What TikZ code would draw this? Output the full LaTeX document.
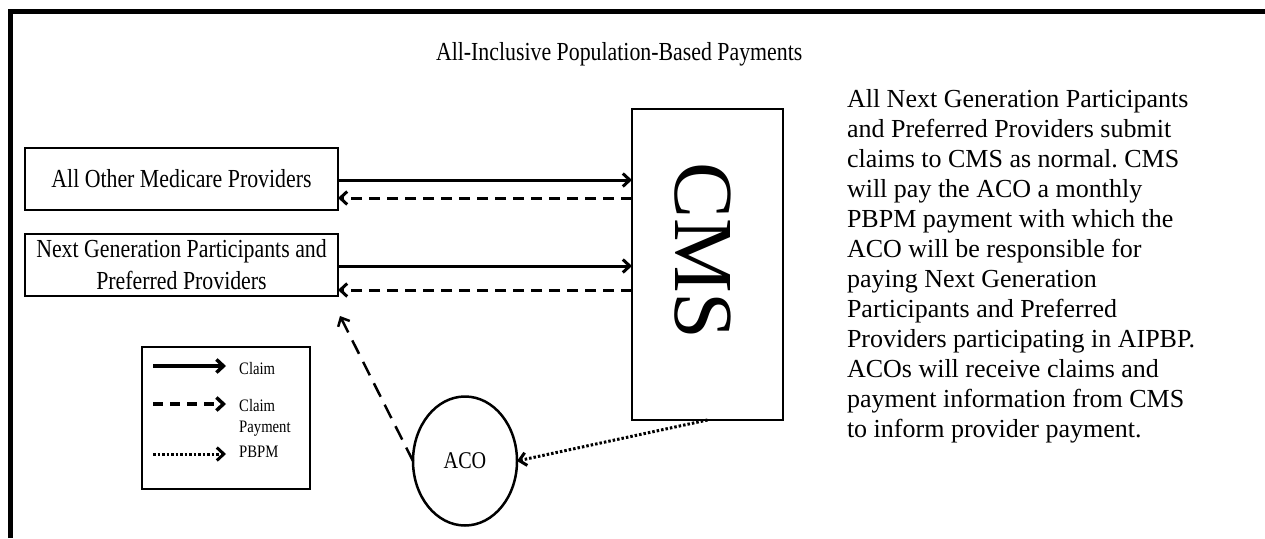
\documentclass[tikz,border=0pt]{standalone}
\usepackage{fontspec}
\setmainfont{Liberation Serif}
\newfontfamily\cond[FakeStretch=0.84]{Liberation Serif}
\usetikzlibrary{arrows.meta,shapes.geometric}
\frenchspacing
\begin{document}
\begin{tikzpicture}[x=1pt,y=-1pt,
  every node/.style={inner sep=0pt,outer sep=0pt},
  tip/.style={-{Straight Barb[length=7pt,width=13pt]}},
  provbox/.style={draw,line width=2.5pt,minimum width=313pt,minimum height=62pt,align=center,font=\cond\fontsize{26}{32}\selectfont},
  claimline/.style={tip,line width=3pt},
  payline/.style={tip,line width=3pt,dash pattern=on 11pt off 7pt},
  diagline/.style={tip,line width=2.5pt,dash pattern=on 15pt off 9pt},
  pbpmline/.style={tip,line width=3pt,dash pattern=on 2.5pt off 2pt},
  legline/.style={line width=3.5pt,-{Straight Barb[length=7pt,width=13pt]}}
]
\useasboundingbox (0,0) rectangle (1265,538);
% frame
\draw[line width=5pt] (10,538) -- (10,11) -- (1265,11);
% title
\node[anchor=base west,font=\cond\fontsize{26}{30}\selectfont] (title) at (436,60) {All-Inclusive Population-Based Payments};
% provider boxes
\node[provbox] (box1) at (181.5,179) {All Other Medicare Providers};
\node[provbox] (box2) at (181.5,265) {Next Generation Participants and\\Preferred Providers};
% CMS
\node[draw,line width=2.5pt,minimum width=151pt,minimum height=311pt] (cms) at (707.5,264.5) {};
\node[rotate=-90,font=\fontsize{84}{84}\selectfont] (cmstext) at (703,251) {CMS};
% ACO
\node[draw,ellipse,line width=2.5pt,minimum width=104pt,minimum height=129pt,font=\cond\fontsize{24}{24}\selectfont] (aco) at (465,461) {ACO};
% connectors
\draw[claimline] (box1.east |- 0,180) -- (cms.west |- 0,180);
\draw[payline] (cms.west |- 0,198) -- (box1.east |- 0,198);
\draw[claimline] (box2.east |- 0,266) -- (cms.west |- 0,266);
\draw[payline] (cms.west |- 0,290) -- (box2.east |- 0,290);
\coordinate (diagtip) at (340,316);
\draw[diagline] (aco.west) -- (diagtip);
\draw[pbpmline] (cms.south) -- (aco.east);
% legend
\node[draw,line width=2.5pt,minimum width=168pt,minimum height=142pt] (legend) at (226,418) {};
\coordinate (l1a) at (153,366); \coordinate (l1b) at (226,366);
\coordinate (l2a) at (153,404); \coordinate (l2b) at (226,404);
\coordinate (l3a) at (153,454); \coordinate (l3b) at (226,454);
\draw[legline] (l1a) -- (l1b);
\draw[legline,dash pattern=on 10pt off 7pt] (l2a) -- (l2b);
\draw[legline,line width=3pt,dash pattern=on 2.5pt off 2pt] (l3a) -- (l3b);
\begin{scope}[every node/.style={inner sep=0pt,anchor=base west,font=\cond\fontsize{17.5}{20}\selectfont}]
\node (lab1) at (239,374) {Claim};
\node (lab2) at (239,411) {Claim};
\node (lab3) at (239,432) {Payment};
\node (lab4) at (239,457) {PBPM};
\end{scope}
% paragraph
\node[anchor=north west,align=left,font=\fontsize{26}{30}\selectfont] (para) at (847,89) {All Next Generation Participants\\and Preferred Providers submit\\claims to CMS as normal. CMS\\will pay the ACO a monthly\\PBPM payment with which the\\ACO will be responsible for\\paying Next Generation\\Participants and Preferred\\Providers participating in AIPBP.\\ACOs will receive claims and\\payment information from CMS\\to inform provider payment.};
\end{tikzpicture}
\end{document}
